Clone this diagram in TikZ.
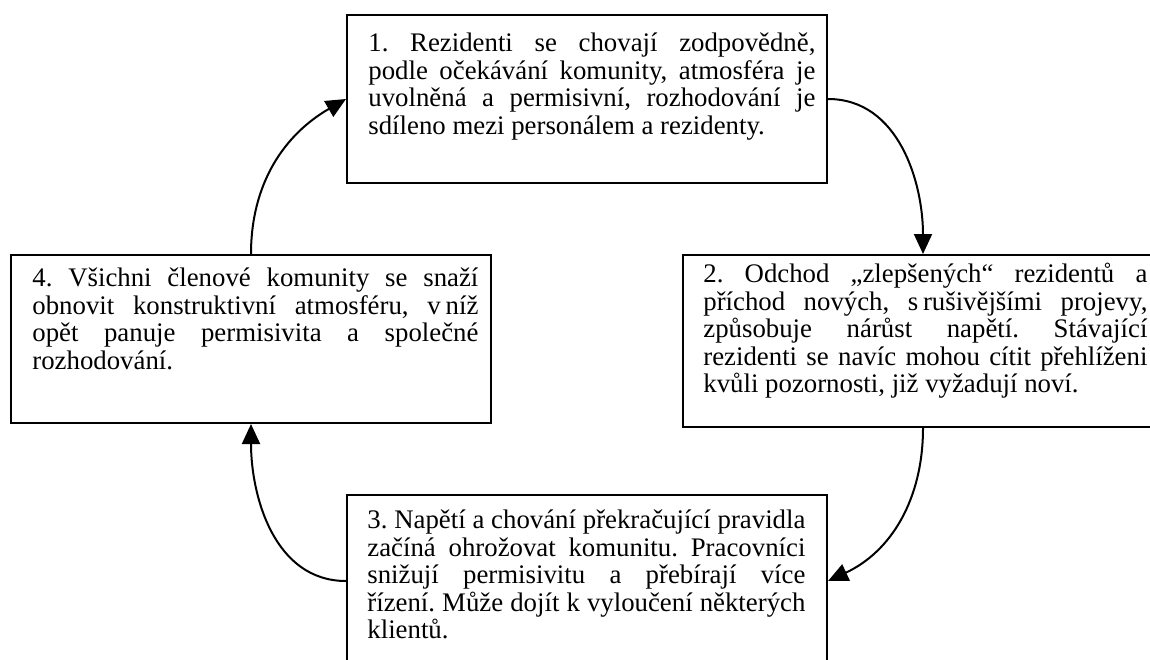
\documentclass[tikz,border=0pt]{standalone}
\usepackage{fontspec}
\setmainfont{Liberation Serif}
\usetikzlibrary{arrows.meta}
\newcommand\jl[2]{\makebox[#1][s]{#2}}
\hbadness=10000
\frenchspacing
\begin{document}
\begin{tikzpicture}[x=0.5pt,y=0.5pt,
  boxnode/.style={draw=black,line width=1pt,fill=white,rectangle,inner sep=0pt,minimum width=240pt},
  txt/.style={align=left,inner sep=0pt,anchor=north west,font=\fontsize{13.4pt}{13.8pt}\selectfont\frenchspacing},
  conn/.style={line width=1pt,-{Triangle[length=10pt,width=9pt]}}]
\useasboundingbox (0,0) rectangle (1150,-659);
\clip (0,0) rectangle (1150,-659);
\fill[white] (0,0) rectangle (1150,-659);
\node[boxnode,minimum height=84pt] (b1) at (587,-99) {};
\node[boxnode,minimum height=86pt] (b2) at (923,-341) {};
\node[boxnode,minimum height=86pt] (b3) at (587,-581) {};
\node[boxnode,minimum height=84pt] (b4) at (251,-339) {};
\node[txt] (t1) at (368,-23) {\rule{0pt}{14pt}\jl{223.5pt}{1. Rezidenti se chovají zodpovědně,}\\
\jl{223.5pt}{podle očekávání komunity, atmosféra je}\\
\jl{223.5pt}{uvolněná a permisivní, rozhodování je}\\
sdíleno mezi personálem a rezidenty.};
\node[txt] (t2) at (703,-254) {\rule{0pt}{14pt}\jl{222pt}{2. Odchod „zlepšených“ rezidentů a}\\
\jl{222pt}{příchod nových, s\kern0.18em rušivějšími projevy,}\\
\jl{222pt}{způsobuje nárůst napětí. Stávající}\\
\jl{222pt}{rezidenti se navíc mohou cítit přehlíženi}\\
kvůli pozornosti, již vyžadují noví.};
\node[txt] (t3) at (367,-500) {\rule{0pt}{14pt}\jl{219pt}{3. Napětí a chování překračující pravidla}\\
\jl{219pt}{začíná ohrožovat komunitu. Pracovníci}\\
\jl{219pt}{snižují permisivitu a přebírají více}\\
\jl{219pt}{řízení. Může dojít k vyloučení některých}\\
klientů.};
\node[txt] (t4) at (32,-258) {\rule{0pt}{14pt}\jl{223pt}{4. Všichni členové komunity se snaží}\\
\jl{223pt}{obnovit konstruktivní atmosféru, v\kern0.18em níž}\\
\jl{223pt}{opět panuje permisivita a společné}\\
rozhodování.};
\draw[conn] (b1.east) to[out=0,in=90] (b2.north);
\draw[conn] (b2.south) to[out=-90,in=25] (b3.east);
\draw[conn] (b3.west) to[out=180,in=-90] (b4.south);
\draw[conn] (b4.north) to[out=90,in=210] (b1.west);
\end{tikzpicture}
\end{document}
